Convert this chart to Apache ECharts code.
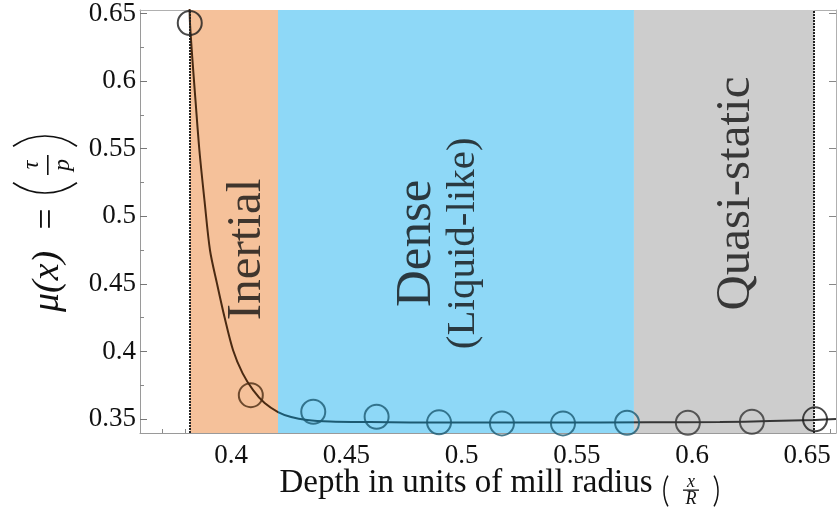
<!DOCTYPE html>
<html><head><meta charset="utf-8">
<script src="https://cdn.jsdelivr.net/npm/echarts@6/dist/echarts.min.js"></script>
<style>html,body{margin:0;padding:0;background:#fff}#c{width:839px;height:508px}</style>
</head><body><div id="c"></div>
<script>
// measured points (circles)
const pointX = [0.3820, 0.4085, 0.4356, 0.4631, 0.4902, 0.5175, 0.5440, 0.5718, 0.5982, 0.6260, 0.6534];
const pointY = [0.6430, 0.3677, 0.3554, 0.3517, 0.3476, 0.3468, 0.3468, 0.3473, 0.3473, 0.3480, 0.3498];
// fitted curve
const fitX = [0.3819, 0.3821, 0.3832, 0.3845, 0.3862, 0.3884, 0.3908, 0.3938, 0.3971, 0.4008, 0.4049, 0.4095, 0.4145, 0.4203, 0.4260, 0.4329, 0.4429, 0.4602, 0.4950, 0.5384, 0.5818, 0.6121, 0.6338, 0.6534, 0.6625];
const fitY = [0.6560, 0.6430, 0.6149, 0.5854, 0.5485, 0.5116, 0.4747, 0.4504, 0.4253, 0.4009, 0.3840, 0.3714, 0.3618, 0.3552, 0.3515, 0.3493, 0.3482, 0.3478, 0.3474, 0.3474, 0.3476, 0.3478, 0.3485, 0.3493, 0.3500];
// regimes
const regionNames = ['Inertial', 'Dense', 'Quasi-static'];
const regionSubNames = ['', '(Liquid-like)', ''];
const regionStart = [0.3821, 0.4203, 0.5748];
const regionEnd = [0.4203, 0.5748, 0.6530];
const regionLabelX = [0.4070, 0.4906, 0.6193];
const regionLabelY = [0.4755, 0.4800, 0.5168];
const boundaryLines = [0.3821, 0.6530];
// ticks
const xMajorTicks = [0.4, 0.45, 0.5, 0.55, 0.6, 0.65];
const xMinorTicks = [0.37, 0.38, 0.39, 0.41, 0.42, 0.43, 0.44, 0.46, 0.47, 0.48, 0.49, 0.51, 0.52, 0.53, 0.54, 0.56, 0.57, 0.58, 0.59, 0.61, 0.62, 0.63, 0.64, 0.66];
const yMajorTicks = [0.35, 0.4, 0.45, 0.5, 0.55, 0.6, 0.65];
const yMinorTicks = [0.375, 0.425, 0.475, 0.525, 0.575, 0.625];
const xRange = [0.3604, 0.6625];
const yRange = [0.3397, 0.6526];
const xTitle = 'Depth in units of mill radius';
const yTitle = 'μ(x)';

const regionFill = ['#F5C19A', '#8ED8F7', '#CDCDCD'];
const regionInk = ['#4A2A12', '#1C5A72', '#363636'];
const FF = "'Liberation Serif','Times New Roman',serif";

function inkFor(x) {
  for (let i = 0; i < regionStart.length; i++) {
    if (x >= regionStart[i] && x < regionEnd[i]) return regionInk[i];
  }
  return '#1a1a1a';
}
const fmt = v => String(+(+v).toFixed(3));
const parenStyle = {stroke: '#111', fill: 'none', lineWidth: 1.6};
const A = 0.62;

const chart = echarts.init(document.getElementById('c'), null, {renderer: 'canvas'});
const axisCommon = {type: 'value', splitLine: {show: false}};
const option = {
  animation: false,
  backgroundColor: '#fff',
  grid: {left: 140, right: 3, top: 9, bottom: 75},
  xAxis: [
    Object.assign({}, axisCommon, {
      min: xRange[0], max: xRange[1], position: 'bottom',
      axisLine: {show: true, onZero: false, lineStyle: {color: '#9a9a9a', width: 1}},
      axisTick: {inside: true, length: 7, customValues: xMajorTicks, lineStyle: {color: '#777'}},
      axisLabel: {customValues: xMajorTicks, formatter: fmt, margin: 9, color: '#111', fontSize: 27, fontFamily: FF}
    }),
    Object.assign({}, axisCommon, {
      min: xRange[0], max: xRange[1], position: 'bottom',
      axisLine: {show: false, onZero: false},
      axisTick: {inside: true, length: 4, customValues: xMinorTicks, lineStyle: {color: '#888'}},
      axisLabel: {show: false}
    }),
    Object.assign({}, axisCommon, {
      min: xRange[0], max: xRange[1], position: 'top',
      axisLine: {show: true, onZero: false, lineStyle: {color: '#b0b0b0', width: 1}},
      axisTick: {inside: true, length: 7, customValues: xMajorTicks, lineStyle: {color: '#888'}},
      axisLabel: {show: false}
    })
  ],
  yAxis: [
    Object.assign({}, axisCommon, {
      min: yRange[0], max: yRange[1], position: 'left',
      axisLine: {show: true, onZero: false, lineStyle: {color: '#9a9a9a', width: 1}},
      axisTick: {inside: true, length: 7, customValues: yMajorTicks, lineStyle: {color: '#777'}},
      axisLabel: {customValues: yMajorTicks, formatter: fmt, margin: 4, color: '#111', fontSize: 27, fontFamily: FF}
    }),
    Object.assign({}, axisCommon, {
      min: yRange[0], max: yRange[1], position: 'left',
      axisLine: {show: false, onZero: false},
      axisTick: {inside: true, length: 4, customValues: yMinorTicks, lineStyle: {color: '#888'}},
      axisLabel: {show: false}
    }),
    Object.assign({}, axisCommon, {
      min: yRange[0], max: yRange[1], position: 'right',
      axisLine: {show: true, onZero: false, lineStyle: {color: '#b0b0b0', width: 1}},
      axisTick: {inside: true, length: 7, customValues: yMajorTicks, lineStyle: {color: '#888'}},
      axisLabel: {show: false}
    })
  ],
  visualMap: {
    show: false, type: 'piecewise', seriesIndex: 2, dimension: 0,
    pieces: [
      {lt: regionStart[1], color: regionInk[0]},
      {gte: regionStart[1], lt: regionStart[2], color: regionInk[1]},
      {gte: regionStart[2], color: regionInk[2]}
    ]
  },
  series: [
    {
      type: 'line', z: 1, data: [], silent: true,
      markArea: {
        silent: true,
        data: regionNames.map((n, i) => [
          {xAxis: regionStart[i], yAxis: yRange[0], itemStyle: {color: regionFill[i], opacity: 1}},
          {xAxis: regionEnd[i], yAxis: yRange[1]}
        ])
      }
    },
    {
      type: 'line', z: 2, data: [], silent: true,
      markLine: {
        silent: true, precision: 5, symbol: ['none', 'none'], label: {show: false},
        lineStyle: {color: '#222', type: [2, 1], width: 2},
        data: boundaryLines.map(v => ({xAxis: v}))
      }
    },
    {
      type: 'line', z: 3, silent: true,
      data: fitX.map((x, i) => [x, fitY[i]]),
      smooth: 0.3, showSymbol: false, symbol: 'none',
      lineStyle: {width: 2}
    },
    {
      type: 'scatter', z: 4, silent: true,
      symbol: 'circle', symbolSize: 24,
      data: pointX.map((x, i) => ({
        value: [x, pointY[i]],
        itemStyle: {color: 'rgba(0,0,0,0)', borderColor: inkFor(x), borderWidth: 2}
      }))
    },
    {
      type: 'scatter', z: 5, silent: true, symbolSize: 1,
      itemStyle: {color: 'rgba(0,0,0,0)'},
      data: regionNames.map((n, i) => ({value: [regionLabelX[i], regionLabelY[i]], name: n, sub: regionSubNames[i]})),
      label: {
        show: true, position: 'inside', rotate: 90,
        formatter: p => p.data.sub ? '{d|' + p.name + '}\n{b|' + p.data.sub + '}' : '{a|' + p.name + '}',
        color: '#111', fontFamily: FF, align: 'center', verticalAlign: 'middle',
        rich: {
          a: {fontSize: 49, lineHeight: 48, fontFamily: FF, color: '#111'},
          d: {fontSize: 51, lineHeight: 47, fontFamily: FF, color: '#111'},
          b: {fontSize: 41, lineHeight: 47, fontFamily: FF, color: '#111'}
        }
      }
    }
  ],
  graphic: [
    // y-axis title: mu(x) = (tau / p), rotated
    {
      type: 'group', x: 48, y: 312, rotation: Math.PI / 2,
      children: [
        {type: 'text', x: 0, y: 0, style: {text: yTitle, align: 'left', verticalAlign: 'middle', font: 'italic 38px ' + FF, fill: '#111'}},
        {type: 'text', x: 93, y: 0, style: {text: '=', align: 'center', verticalAlign: 'middle', font: '38px ' + FF, fill: '#111'}},
        {type: 'arc', shape: {cx: 174, cy: -3, r: 55, startAngle: Math.PI - A, endAngle: Math.PI + A, clockwise: true}, style: parenStyle},
        {type: 'text', x: 147, y: -16, style: {text: 'τ', align: 'center', verticalAlign: 'middle', font: 'italic 24px ' + FF, fill: '#111'}},
        {type: 'rect', shape: {x: 137, y: -1, width: 20, height: 1.6}, style: {fill: '#111'}},
        {type: 'text', x: 147, y: 15, style: {text: 'p', align: 'center', verticalAlign: 'middle', font: 'italic 24px ' + FF, fill: '#111'}},
        {type: 'arc', shape: {cx: 121, cy: -3, r: 55, startAngle: -A, endAngle: A, clockwise: true}, style: parenStyle}
      ]
    },
    // x-axis title with (x / R)
    {
      type: 'group', x: 0, y: 0,
      children: [
        {type: 'text', x: 466, y: 483, style: {text: xTitle, align: 'center', verticalAlign: 'middle', font: '33px ' + FF, fill: '#111'}},
        {type: 'arc', shape: {cx: 696, cy: 491, r: 32, startAngle: Math.PI - 0.5, endAngle: Math.PI + 0.5, clockwise: true}, style: {stroke: '#111', fill: 'none', lineWidth: 1.5}},
        {type: 'text', x: 691, y: 482, style: {text: 'x', align: 'center', verticalAlign: 'middle', font: 'italic 18px ' + FF, fill: '#111'}},
        {type: 'rect', shape: {x: 683, y: 489.5, width: 16, height: 1.3}, style: {fill: '#111'}},
        {type: 'text', x: 691, y: 499, style: {text: 'R', align: 'center', verticalAlign: 'middle', font: 'italic 18px ' + FF, fill: '#111'}},
        {type: 'arc', shape: {cx: 686, cy: 491, r: 32, startAngle: -0.5, endAngle: 0.5, clockwise: true}, style: {stroke: '#111', fill: 'none', lineWidth: 1.5}}
      ]
    }
  ]
};
chart.setOption(option);
</script>
</body></html>
